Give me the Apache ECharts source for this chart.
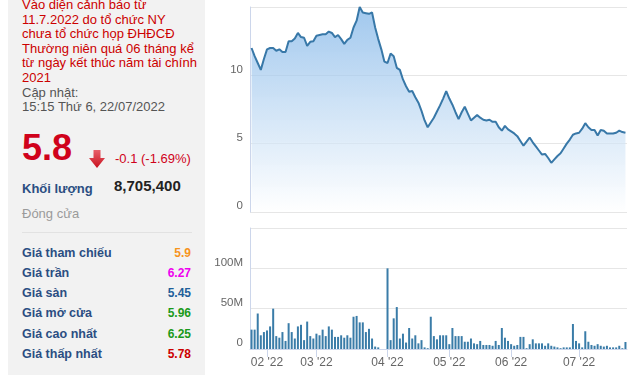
<!DOCTYPE html>
<html>
<head>
<meta charset="utf-8">
<script src="https://cdn.jsdelivr.net/npm/echarts@6/dist/echarts.min.js"></script>
<style>
  html, body { margin:0; padding:0; width:640px; height:375px; overflow:hidden; background:#fff;
    font-family: Arial, "Liberation Sans", sans-serif; }
  #panel { position:absolute; left:8px; top:0; width:197px; height:375px; background:#f2f2f2; }
  .abs { position:absolute; white-space:nowrap; }
  #warn { position:absolute; left:14px; top:-2px; font-size:13px; line-height:14.6px; color:#cc0000; }
  #warn .upd { color:#555; }
  #price { left:14px; top:126px; font-size:36px; font-weight:bold; color:#d0021b; line-height:44px; }
  #arrow { left:81px; top:150px; width:16px; height:18px; }
  #chg { left:107px; top:151px; font-size:13px; color:#d0021b; line-height:16px; }
  #kl { left:14px; top:181px; font-size:13px; font-weight:bold; color:#2b4e82; line-height:16px; }
  #klv { left:106px; top:177px; font-size:15px; font-weight:bold; color:#222; line-height:18px; }
  #dc { left:14px; top:206px; font-size:13px; color:#9a9a9a; line-height:16px; }
  #sep { position:absolute; left:14px; top:232px; width:170px; height:1px; background:#e2e2e2; }
  .row { position:absolute; left:14px; width:169px; height:16px; font-size:12.5px; font-weight:bold; line-height:16px; color:#2b4e82; }
  .row span { position:absolute; right:0; top:0; font-size:12px; font-weight:bold; }
  #chart { position:absolute; left:205px; top:0; width:435px; height:375px; }
</style>
</head>
<body>
<div id="panel">
  <div id="warn">Vào diện cảnh báo từ<br>11.7.2022 do tổ chức NY<br>chưa tổ chức họp ĐHĐCĐ<br>Thường niên quá 06 tháng kể<br>từ ngày kết thúc năm tài chính<br>2021<br><span class="upd">Cập nhật:<br>15:15 Thứ 6, 22/07/2022</span></div>
  <div id="price" class="abs">5.8</div>
  <svg id="arrow" class="abs" viewBox="0 0 16 18"><defs><linearGradient id="ag" x1="0" y1="0" x2="0" y2="1"><stop offset="0" stop-color="#e8606a"/><stop offset="1" stop-color="#c8101e"/></linearGradient></defs><path d="M4.5 0 H11.5 V8 H16 L8 18 L0 8 H4.5 Z" fill="url(#ag)"/></svg>
  <div id="chg" class="abs">-0.1 (-1.69%)</div>
  <div id="kl" class="abs">Khối lượng</div>
  <div id="klv" class="abs">8,705,400</div>
  <div id="dc" class="abs">Đóng cửa</div>
  <div id="sep"></div>
  <div class="row" style="top:245px">Giá tham chiếu<span style="color:#f7941d">5.9</span></div>
  <div class="row" style="top:265px">Giá trần<span style="color:#ee00ee">6.27</span></div>
  <div class="row" style="top:285px">Giá sàn<span style="color:#1f5f9a">5.45</span></div>
  <div class="row" style="top:305px">Giá mở cửa<span style="color:#1a9a1a">5.96</span></div>
  <div class="row" style="top:326px">Giá cao nhất<span style="color:#1a9a1a">6.25</span></div>
  <div class="row" style="top:346px">Giá thấp nhất<span style="color:#cc0000">5.78</span></div>
</div>
<div id="chart"></div>
<script>
// Trading days (2022) per month
const janDays = [24,25,26,27,28];
const febDays = [7,8,9,10,11,14,15,16,17,18,21,22,23,24,25,28];
const marDays = [1,2,3,4,7,8,9,10,11,14,15,16,17,18,21,22,23,24,25,28,29,30,31];
const aprDays = [1,4,5,6,7,8,12,13,14,15,18,19,20,21,22,25,26,27,28,29];
const mayDays = [4,5,6,9,10,11,12,13,16,17,18,19,20,23,24,25,26,27,30,31];
const junDays = [1,2,3,6,7,8,9,10,13,14,15,16,17,20,21,22,23,24,27,28,29,30];
const julDays = [1,4,5,6,7,8,11,12,13,14,15,18,19,20,21,22];

// Closing prices (thousand VND)
const closePrices = [
  12.0,11.4,10.9,10.4,11.2,
  11.9,12.0,12.0,11.8,11.9,11.7,11.7,12.5,12.5,12.7,13.1,12.8,12.75,12.15,12.45,12.5,
  12.9,12.95,13.0,13.0,13.2,13.1,12.8,12.95,12.65,12.3,12.6,12.75,13.5,14.0,15.0,14.6,14.55,14.5,14.6,13.5,12.65,11.9,11.0,
  10.9,11.6,11.4,10.55,10.4,9.7,9.2,8.8,8.85,8.4,8.0,7.4,6.7,6.2,6.55,6.9,7.35,7.8,8.3,8.85,
  8.3,7.85,7.3,6.8,7.3,7.7,7.2,6.7,6.9,7.1,6.9,6.75,6.7,6.75,6.6,6.6,6.2,5.95,6.3,6.05,
  5.9,5.75,5.55,5.2,4.85,5.15,5.45,5.1,4.8,4.5,4.2,4.25,3.95,3.6,3.85,4.1,4.3,4.65,5.0,5.3,5.65,5.75,
  5.8,6.1,6.5,6.2,6.0,6.0,5.6,6.0,5.95,5.75,5.75,5.75,5.8,5.95,5.85,5.8
];

// Volumes (millions of shares)
const volumesM = [
  24,24,44,17,21,
  23,28,50,16,14,21,10,32,21,13,28,30,11,34,16,13,
  19,17,24,16,28,24,15,15,17,14,17,14,40,41,33,33,21,25,13,3,2,0,0,
  100,11,38,52,13,19,8,26,13,17,7,11,2,1,40,16,12,17,17,17,
  6,26,16,16,16,9,9,13,7,6,10,5,5,5,4,10,5,26,14,10,
  6,4,5,15,15,1,6,12,7,7,7,4,7,4,3,2,1,2,2,2,31,10,
  7,2,22,9,5,4,6,4,3,4,2,2,2,4,1,8.7
];

const priceTicks = [0, 5, 10];
const volumeTicks = [0, 50, 100];

const months = [[1,janDays],[2,febDays],[3,marDays],[4,aprDays],[5,mayDays],[6,junDays],[7,julDays]];
const dates = [];
const monthStart = new Set();
months.forEach(([m, days]) => {
  days.forEach((d, k) => {
    const s = '2022-' + String(m).padStart(2,'0') + '-' + String(d).padStart(2,'0');
    if (k === 0 && m !== 1) monthStart.add(s);
    dates.push(s);
  });
});
const isMonthStart = (idx, val) => monthStart.has(val);

const chart = echarts.init(document.getElementById('chart'), null, {renderer:'canvas'});
const labelFont = 'Arial, "Liberation Sans", sans-serif';
chart.setOption({
  animation: false,
  grid: [
    {left:45, top:7, width:377, height:205},
    {left:45, top:228, width:377, height:121}
  ],
  xAxis: [
    {type:'category', gridIndex:0, data:dates, boundaryGap:true,
     axisLine:{show:false}, axisTick:{show:false}, axisLabel:{show:false}, splitLine:{show:false}},
    {type:'category', gridIndex:1, data:dates, boundaryGap:true,
     axisLine:{show:true, lineStyle:{color:'#ccd6eb', width:1}},
     axisTick:{show:true, alignWithLabel:true, interval:isMonthStart, length:8, lineStyle:{color:'#ccd6eb'}},
     axisLabel:{show:true, interval:isMonthStart, color:'#666', fontSize:12, fontFamily:labelFont, margin:8,
       formatter: v => v.slice(5,7) + " '" + v.slice(2,4)},
     splitLine:{show:false}}
  ],
  yAxis: [
    {type:'value', gridIndex:0, min:0, max:15, interval:5,
     axisLine:{show:true, lineStyle:{color:'#ccd6eb'}}, axisTick:{show:false},
     splitLine:{show:true, lineStyle:{color:'#e6e6e6'}},
     axisLabel:{color:'#666', fontSize:11.5, fontFamily:labelFont, margin:7, verticalAlign:'bottom',
       formatter: v => priceTicks.includes(v) ? String(v) : ''}},
    {type:'value', gridIndex:1, min:0, max:150, interval:50,
     axisLine:{show:true, lineStyle:{color:'#ccd6eb'}}, axisTick:{show:false},
     splitLine:{show:true, lineStyle:{color:'#e6e6e6'}},
     axisLabel:{color:'#666', fontSize:11.5, fontFamily:labelFont, margin:7, verticalAlign:'bottom',
       formatter: v => volumeTicks.includes(v) ? (v === 0 ? '0' : v + 'M') : ''}}
  ],
  series: [
    {type:'line', xAxisIndex:0, yAxisIndex:0, data:closePrices, showSymbol:false, symbol:'none',
     lineStyle:{color:'#3878a8', width:2},
     areaStyle:{color:new echarts.graphic.LinearGradient(0,0,0,1,[
       {offset:0, color:'#78b0e6'},
       {offset:1, color:'rgba(255,255,255,0.95)'}
     ])}},
    {type:'bar', xAxisIndex:1, yAxisIndex:1, data:volumesM, barWidth:2,
     itemStyle:{color:'#3a7ca8'}}
  ]
});
</script>
</body>
</html>
